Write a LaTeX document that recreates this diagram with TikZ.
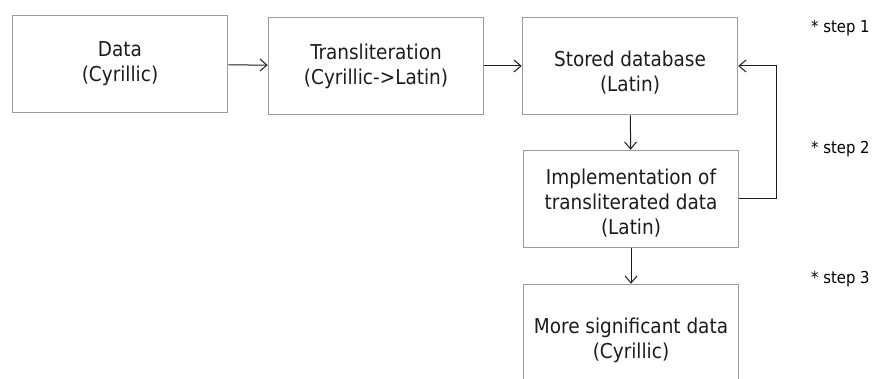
\documentclass[tikz,border=0pt]{standalone}
\usepackage{fontspec}
\setmainfont{DejaVu Sans Condensed}
\usepackage{xcolor}
\usepackage{tikz}
\usetikzlibrary{arrows.meta}
\definecolor{boxline}{HTML}{9C9C9C}
\definecolor{inkdark}{HTML}{1C1C1C}

\begin{document}
\begin{tikzpicture}[x=1pt,y=-1pt,
    stepbox/.style={draw=boxline,line width=1.6pt,fill=white,minimum width=215pt,minimum height=97pt,inner sep=0pt},
    boxtext/.style={align=center,inner sep=0pt,text=inkdark,font=\fontsize{20.5}{25}\selectfont},
    stepnote/.style={anchor=west,inner sep=0pt,text=black,font=\fontsize{16.5}{18}\selectfont},
    flow/.style={draw=inkdark,line width=1pt,-{Straight Barb[length=7pt,width=12pt]}}]
    \useasboundingbox (0,0) rectangle (881,379);
    \foreach \nm/\x/\y/\dy/\txt in {%
      data/120/64/0/{Data\\(Cyrillic)},
      translit/376/66/0/{Transliteration\\(Cyrillic->Latin)},
      stored/630/66/7/{Stored database\\(Latin)},
      impl/631/199/4/{Implementation of\\transliterated data\\(Latin)},
      signif/631/333/7/{More significant data\\(Cyrillic)}%
    } {
      \node[stepbox,label={[boxtext,yshift=-\dy pt]center:\txt}] (\nm) at (\x,\y) {};
    }
    \foreach \n/\y in {1/28, 2/149, 3/279} {
      \node[stepnote] (note\n) at (811,\y) {* step \n};
    }
    \draw[flow] (data) -- (translit);
    \draw[flow] (translit) -- (stored);
    \draw[flow] (stored) -- (impl);
    \draw[flow] (impl) -- (signif);
    \draw[flow] (impl.east) -- ++(37,0) |- (stored.east);
  \end{tikzpicture}
\end{document}
